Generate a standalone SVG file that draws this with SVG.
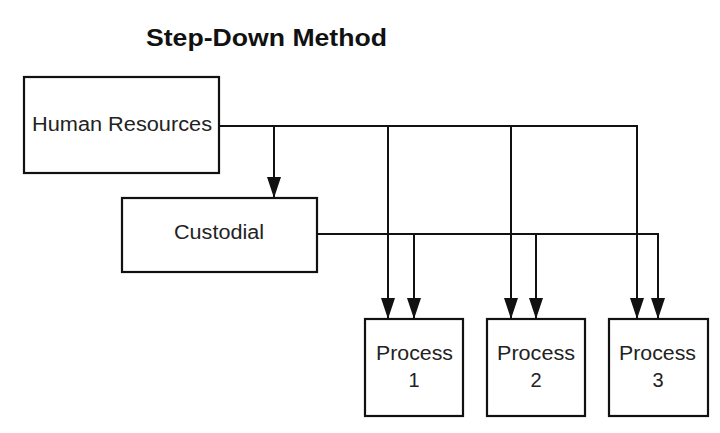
<svg xmlns="http://www.w3.org/2000/svg" width="720" height="433" viewBox="0 0 720 433">
<style>
.box{fill:#fff;stroke:#111;stroke-width:2.2}
.ln{fill:none;stroke:#111;stroke-width:2}
.t{font-family:"Liberation Sans",Arial,sans-serif;font-size:20px;fill:#222;text-anchor:middle}
.title{font-family:"Liberation Sans",Arial,sans-serif;font-size:23px;font-weight:bold;fill:#111}
</style>
<defs>
<marker id="ah" markerUnits="userSpaceOnUse" markerWidth="21" markerHeight="14" refX="21" refY="7" orient="auto" viewBox="0 0 21 14">
<path d="M0,0 L21,7 L0,14 Z" fill="#111"/>
</marker>
</defs>
<rect width="720" height="433" fill="#fff"/>
<text class="title" x="146" y="46" textLength="241" lengthAdjust="spacingAndGlyphs">Step-Down Method</text>
<g id="connectors">
<path class="ln" d="M219,126 H637 V319" marker-end="url(#ah)"/>
<path class="ln" d="M274,126 V198" marker-end="url(#ah)"/>
<path class="ln" d="M388,126 V319" marker-end="url(#ah)"/>
<path class="ln" d="M511,126 V319" marker-end="url(#ah)"/>
<path class="ln" d="M317,234 H658 V319" marker-end="url(#ah)"/>
<path class="ln" d="M414,234 V319" marker-end="url(#ah)"/>
<path class="ln" d="M536,234 V319" marker-end="url(#ah)"/>
</g>
<g id="hr">
<rect class="box" x="24" y="77" width="195" height="96"/>
<text class="t" x="32" y="131" style="text-anchor:start" textLength="180" lengthAdjust="spacingAndGlyphs">Human Resources</text>
</g>
<g id="custodial">
<rect class="box" x="122" y="198" width="195" height="74"/>
<text class="t" x="174" y="239" style="text-anchor:start" textLength="90" lengthAdjust="spacingAndGlyphs">Custodial</text>
</g>
<g id="p1">
<rect class="box" x="365" y="319" width="98" height="97"/>
<text class="t" x="376" y="360" style="text-anchor:start" textLength="77" lengthAdjust="spacingAndGlyphs">Process</text>
<text class="t" x="414" y="387">1</text>
</g>
<g id="p2">
<rect class="box" x="487" y="319" width="98" height="97"/>
<text class="t" x="497" y="360" style="text-anchor:start" textLength="78" lengthAdjust="spacingAndGlyphs">Process</text>
<text class="t" x="536" y="387">2</text>
</g>
<g id="p3">
<rect class="box" x="609" y="319" width="99" height="97"/>
<text class="t" x="619" y="360" style="text-anchor:start" textLength="77" lengthAdjust="spacingAndGlyphs">Process</text>
<text class="t" x="658" y="387">3</text>
</g>
</svg>
